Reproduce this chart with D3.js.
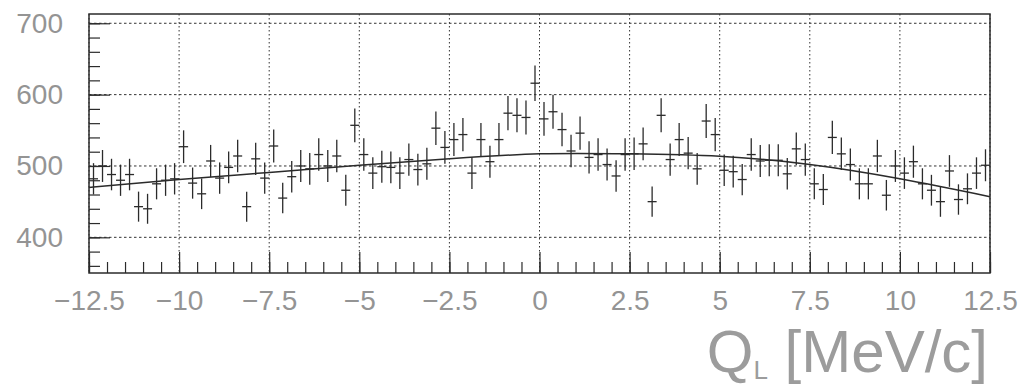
<!DOCTYPE html>
<html>
<head>
<meta charset="utf-8">
<script src="https://cdn.jsdelivr.net/npm/d3@7"></script>
<style>
  html, body { margin: 0; padding: 0; background: #fff; }
  svg { display: block; }
  text { font-family: "Liberation Sans", Arial, Helvetica, sans-serif; }
</style>
</head>
<body>
<svg id="chart" width="1023" height="385"></svg>
<script>
// Histogram binning: 100 bins of 0.25 MeV/c from -12.5 to 12.5
const binLow = -12.5;
const binWidth = 0.25;

// Entries per bin
const counts = [
  482, 500, 488, 480, 488, 443, 440, 475, 480, 482,
  527, 476, 461, 507, 483, 498, 514, 443, 510, 483,
  528, 455, 485, 500, 496, 516, 500, 514, 466, 557,
  516, 490, 499, 498, 490, 509, 495, 503, 553, 526,
  537, 544, 490, 537, 506, 537, 574, 571, 568, 616,
  566, 576, 551, 521, 546, 512, 516, 502, 486, 516,
  517, 531, 450, 571, 509, 537, 518, 496, 563, 544,
  494, 492, 481, 516, 507, 508, 508, 489, 524, 509,
  475, 467, 540, 517, 502, 475, 475, 514, 459, 500,
  490, 506, 475, 466, 450, 493, 453, 468, 490, 501
];

// Fitted background curve
const fitX = [-12.5, -10, -7.5, -5, -2.5, 0, 2.5, 5, 7.5, 10, 12.5];
const fitY = [470, 481, 491, 501, 510, 517, 517, 513.5, 502, 482, 457];

// Axis ticks and labels
const xTicks = [-12.5, -10, -7.5, -5, -2.5, 0, 2.5, 5, 7.5, 10, 12.5];
const xTickLabels = ["\u221212.5", "\u221210", "\u22127.5", "\u22125", "\u22122.5", "0", "2.5", "5", "7.5", "10", "12.5"];
const yTicks = [400, 500, 600, 700];
const yTickLabels = ["400", "500", "600", "700"];
const xMinorStep = 0.5;
const yMinorStep = 20;

const frame = { left: 89, right: 990, top: 14, bottom: 273 };
const svg = d3.select("#chart");

const x = d3.scaleLinear().domain([-12.5, 12.5]).range([frame.left, frame.right]);
const y = d3.scaleLinear().domain([350, 713]).range([frame.bottom, frame.top]);

const ink = "#2b2b2b";
const labelGrey = "#949494";

// Grid
const grid = svg.append("g");
grid.selectAll("line.gx").data(xTicks).join("line")
  .attr("x1", d => x(d)).attr("x2", d => x(d))
  .attr("y1", frame.top).attr("y2", frame.bottom)
  .attr("stroke", "#333").attr("stroke-width", 1)
  .attr("stroke-dasharray", "1.5,2.5");
grid.selectAll("line.gy").data(yTicks).join("line")
  .attr("x1", frame.left).attr("x2", frame.right)
  .attr("y1", d => y(d)).attr("y2", d => y(d))
  .attr("stroke", "#333").attr("stroke-width", 1)
  .attr("stroke-dasharray", "2.5,2.5");

// Minor ticks (inside the frame)
const xMinor = d3.range(-12.5, 12.5 + 1e-9, xMinorStep);
svg.append("g")
  .attr("transform", `translate(0,${frame.bottom})`)
  .call(d3.axisBottom(x).tickValues(xMinor).tickSize(-11).tickFormat(""))
  .call(g => g.select(".domain").remove())
  .call(g => g.selectAll("line").attr("stroke", ink).attr("stroke-width", 1.2));

const yMinor = d3.range(360, 713, yMinorStep);
svg.append("g")
  .attr("transform", `translate(${frame.left},0)`)
  .call(d3.axisLeft(y).tickValues(yMinor).tickSize(-11).tickFormat(""))
  .call(g => g.select(".domain").remove())
  .call(g => g.selectAll("line").attr("stroke", ink).attr("stroke-width", 1.2));

// Major ticks with labels
svg.append("g")
  .attr("transform", `translate(0,${frame.bottom})`)
  .call(d3.axisBottom(x).tickValues(xTicks).tickSize(-21).tickPadding(17)
    .tickFormat((d, i) => xTickLabels[i]))
  .call(g => g.select(".domain").remove())
  .call(g => g.selectAll("line").attr("stroke", ink).attr("stroke-width", 1.2))
  .call(g => g.selectAll("text").attr("fill", labelGrey)
    .style("font-size", "28px").style("font-family", "'Liberation Sans', Arial, sans-serif"));

svg.append("g")
  .attr("transform", `translate(${frame.left},0)`)
  .call(d3.axisLeft(y).tickValues(yTicks).tickSize(-21).tickPadding(26)
    .tickFormat((d, i) => yTickLabels[i]))
  .call(g => g.select(".domain").remove())
  .call(g => g.selectAll("line").attr("stroke", ink).attr("stroke-width", 1.2))
  .call(g => g.selectAll("text").attr("fill", labelGrey)
    .style("font-size", "28px").style("font-family", "'Liberation Sans', Arial, sans-serif"));

// Data points with error bars
const points = counts.map((c, i) => ({
  lo: binLow + i * binWidth,
  hi: binLow + (i + 1) * binWidth,
  c: c,
  err: Math.sqrt(c)
}));
const pts = svg.append("g").attr("stroke", ink).attr("stroke-width", 1.3);
pts.selectAll("line.h").data(points).join("line")
  .attr("x1", d => x(d.lo)).attr("x2", d => x(d.hi))
  .attr("y1", d => y(d.c)).attr("y2", d => y(d.c));
pts.selectAll("line.v").data(points).join("line")
  .attr("x1", d => x((d.lo + d.hi) / 2)).attr("x2", d => x((d.lo + d.hi) / 2))
  .attr("y1", d => y(d.c - d.err)).attr("y2", d => y(d.c + d.err));

// Fit curve
svg.append("path")
  .datum(fitX.map((v, i) => [v, fitY[i]]))
  .attr("fill", "none").attr("stroke", ink).attr("stroke-width", 1.5)
  .attr("d", d3.line().x(d => x(d[0])).y(d => y(d[1])).curve(d3.curveNatural));

// Frame
svg.append("rect")
  .attr("x", frame.left).attr("y", frame.top)
  .attr("width", frame.right - frame.left).attr("height", frame.bottom - frame.top)
  .attr("fill", "none").attr("stroke", ink).attr("stroke-width", 1.5);

// Axis title
const title = svg.append("text")
  .attr("x", 988).attr("y", 372)
  .attr("text-anchor", "end")
  .attr("fill", "#9c9c9c")
  .style("font-size", "60px");
title.append("tspan").text("Q");
title.append("tspan").attr("dy", 7).style("font-size", "26px").text("L");
title.append("tspan").attr("dy", -7).text("\u00a0[MeV/c]");
</script>
</body>
</html>
